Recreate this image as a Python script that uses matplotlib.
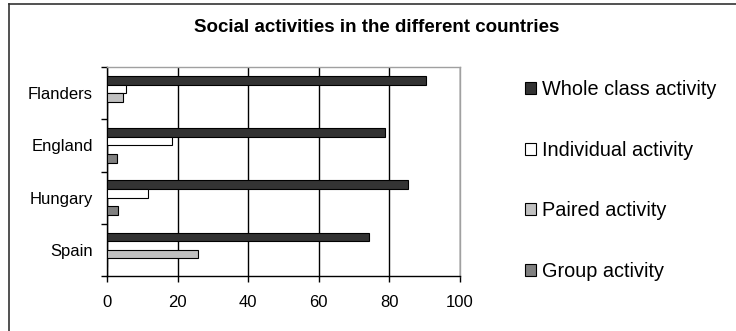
import matplotlib.pyplot as plt
import numpy as np
from matplotlib.lines import Line2D
from matplotlib.patches import Patch

countries = ['Flanders', 'England', 'Hungary', 'Spain']
series = ['Whole class activity', 'Individual activity', 'Paired activity', 'Group activity']
whole_class = [90.4, 78.8, 85.4, 74.3]
individual = [5.3, 18.5, 11.5, 0.0]
paired = [4.4, 0.0, 0.0, 25.8]
group = [0.0, 2.7, 3.1, 0.0]
colors = ['#333333', '#ffffff', '#c0c0c0', '#808080']
x_ticks = [0, 20, 40, 60, 80, 100]

plt.rcParams['font.family'] = ['Liberation Sans', 'DejaVu Sans']

W, H = 736, 331
fig = plt.figure(figsize=(W / 100, H / 100), dpi=100)
ax = fig.add_axes([107 / W, (H - 276) / H, 353 / W, 209 / H])

# Flanders at the top, Spain at the bottom
y = np.arange(len(countries))[::-1]
bar_h = 0.165
offsets = [1.5, 0.5, -0.5, -1.5]
for vals, off, col, name in zip([whole_class, individual, paired, group], offsets, colors, series):
    ax.barh(y + off * bar_h, vals, height=bar_h, color=col, edgecolor='black',
            linewidth=0.8, label=name, zorder=3)

ax.set_xlim(0, 100)
ax.set_ylim(-0.5, len(countries) - 0.5)
ax.set_xticks(x_ticks)
ax.set_xticklabels([str(v) for v in x_ticks], fontsize=12)
ax.set_yticks(np.arange(-0.5, len(countries), 1.0))
ax.set_yticklabels([])
ax.set_yticks(y, minor=True)
ax.set_yticklabels(countries, minor=True, fontsize=12)
ax.tick_params(axis='y', which='major', direction='out', length=4, width=1)
ax.tick_params(axis='y', which='minor', length=0, pad=10)
ax.tick_params(axis='x', direction='out', length=4, width=1, pad=10)

ax.grid(axis='x', color='black', linewidth=1, zorder=0)
for s in ['top', 'right']:
    ax.spines[s].set_color('#a0a0a0')
    ax.spines[s].set_linewidth(1)
for s in ['left', 'bottom']:
    ax.spines[s].set_color('black')
    ax.spines[s].set_linewidth(1)

fig.text(377 / W, 1 - 27 / H, 'Social activities in the different countries',
         ha='center', va='center', fontsize=13.5, fontweight='bold')

handles = [Patch(facecolor=c, edgecolor='black', linewidth=0.8) for c in colors]
fig.legend(handles, series, loc='upper left', bbox_to_anchor=(525 / W, 1 - 80 / H),
           frameon=False, fontsize=14.3, handlelength=0.56, handleheight=0.56,
           handletextpad=0.3, labelspacing=2.1, borderpad=0, borderaxespad=0)

# chart frame
fig.add_artist(Line2D([9 / W, 1], [1 - 4 / H] * 2, color='#333333', lw=1.2))
fig.add_artist(Line2D([9 / W] * 2, [0, 1 - 4 / H], color='#333333', lw=1.2))

fig.savefig('out.png', dpi=100)
